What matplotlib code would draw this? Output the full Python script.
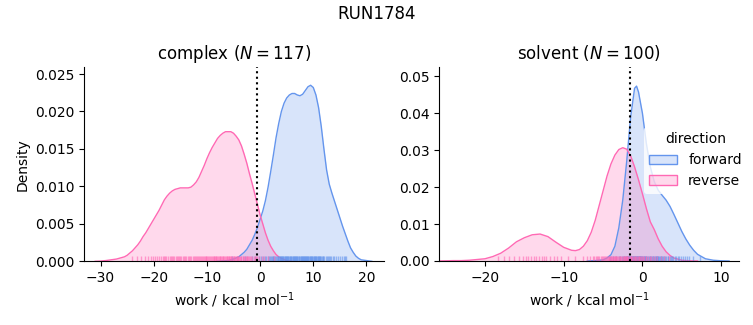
import numpy as np
import matplotlib.pyplot as plt
from matplotlib.colors import to_rgb
from matplotlib.patches import Patch

# KDE curves (x grid, density) for each phase and direction
complex_fwd_x = [-8, -7, -6, -5, -4, -3.5, -3, -2.5, -2, -1.5, -1, -0.5, 0, 0.5, 1, 1.5, 2, 2.5,
                 3, 3.5, 4, 4.5, 5, 5.5, 6, 6.5, 7, 7.5, 8, 8.5, 9, 9.5, 10, 10.5, 11, 11.5, 12,
                 12.5, 13, 13.5, 14, 14.5, 15, 15.5, 16, 16.5, 17, 17.5, 18, 18.5, 19, 20, 21]
complex_fwd_d = [0, 0.00005, 0.0001, 0.0003, 0.0006, 0.0009, 0.0012, 0.0016, 0.0022, 0.0028,
                 0.0036, 0.0045, 0.0056, 0.0067, 0.0081, 0.0099, 0.0120, 0.0142, 0.0165, 0.0184,
                 0.0200, 0.0211, 0.0218, 0.0222, 0.0224, 0.0224, 0.0222, 0.0221, 0.0223, 0.0228,
                 0.0233, 0.0235, 0.0232, 0.0222, 0.0205, 0.0180, 0.0150, 0.0122, 0.0103, 0.0091,
                 0.0080, 0.0069, 0.0058, 0.0047, 0.0037, 0.0027, 0.0018, 0.0012, 0.0007, 0.0004,
                 0.0002, 0.0001, 0]
complex_rev_x = [-31, -30, -29, -28, -27, -26.5, -26, -25.5, -25, -24.5, -24, -23.5, -23, -22.5,
                 -22, -21.5, -21, -20.5, -20, -19.5, -19, -18.5, -18, -17.5, -17, -16.5, -16,
                 -15.5, -15, -14.5, -14, -13.5, -13, -12.5, -12, -11.5, -11, -10.5, -10, -9.5,
                 -9, -8.5, -8, -7.5, -7, -6.5, -6, -5.5, -5, -4.5, -4, -3.5, -3, -2.5, -2, -1.5,
                 -1, -0.5, 0, 0.5, 1, 1.5, 2, 2.5, 3, 3.5, 4, 5, 6]
complex_rev_d = [0, 0.00003, 0.0001, 0.0002, 0.0003, 0.0004, 0.0005, 0.0006, 0.0008, 0.0011,
                 0.0014, 0.0018, 0.0022, 0.0027, 0.0033, 0.0038, 0.0044, 0.0050, 0.0056, 0.0062,
                 0.0068, 0.0075, 0.0082, 0.0087, 0.0091, 0.0094, 0.0096, 0.0097, 0.0098, 0.0098,
                 0.0098, 0.0098, 0.0099, 0.0102, 0.0106, 0.0112, 0.0120, 0.0128, 0.0137, 0.0145,
                 0.0152, 0.0158, 0.0164, 0.0168, 0.0171, 0.0173, 0.0173, 0.0173, 0.0171, 0.0167,
                 0.0162, 0.0154, 0.0143, 0.0131, 0.0117, 0.0104, 0.0090, 0.0076, 0.0062, 0.0050,
                 0.0038, 0.0028, 0.0020, 0.0014, 0.0009, 0.0006, 0.0004, 0.0001, 0]

solvent_fwd_x = [-7, -6, -5, -4.5, -4, -3.5, -3, -2.5, -2, -1.5, -1, -0.75, -0.5, 0, 0.5, 1, 1.5,
                 2, 2.5, 3, 3.5, 4, 4.5, 5, 5.5, 6, 6.5, 7, 8, 9, 10, 11]
solvent_fwd_d = [0, 0.0001, 0.0003, 0.0008, 0.0017, 0.0040, 0.0090, 0.0165, 0.0270, 0.0390,
                 0.0468, 0.0474, 0.0458, 0.0400, 0.0318, 0.0255, 0.0215, 0.0192, 0.0178, 0.0165,
                 0.0148, 0.0126, 0.0103, 0.0080, 0.0060, 0.0043, 0.0029, 0.0018, 0.0006, 0.0002,
                 0.00005, 0]
solvent_rev_x = [-26, -24, -23, -22, -21, -20, -19, -18, -17, -16, -15, -14, -13, -12, -11, -10,
                 -9, -8.5, -8, -7.5, -7, -6.5, -6, -5.5, -5, -4.5, -4, -3.5, -3, -2.5, -2, -1.5,
                 -1, -0.5, 0, 0.5, 1, 1.5, 2, 2.5, 3, 3.5, 4, 5, 6, 7]
solvent_rev_d = [0, 0.0001, 0.0001, 0.0002, 0.0004, 0.0006, 0.0012, 0.0021, 0.0035, 0.0052,
                 0.0063, 0.0071, 0.0073, 0.0066, 0.0051, 0.0037, 0.0029, 0.0028, 0.0031, 0.0040,
                 0.0055, 0.0078, 0.0110, 0.0150, 0.0190, 0.0230, 0.0263, 0.0287, 0.0302, 0.0307,
                 0.0303, 0.0285, 0.0255, 0.0220, 0.0182, 0.0142, 0.0106, 0.0085, 0.0060, 0.0040,
                 0.0025, 0.0015, 0.0008, 0.0002, 0.00005, 0]

# individual work values (rug)
complex_fwd_work = [-5.3, -2.8, -1.6, -0.9, -0.3,
                    0.2, 0.6, 0.9, 1.2, 1.5, 1.7, 1.9,
                    2.1, 2.2, 2.4, 2.5, 2.7, 2.8, 3.0, 3.1, 3.3, 3.4, 3.6, 3.7, 3.8, 3.9,
                    4.0, 4.1, 4.2, 4.3, 4.4, 4.5, 4.6, 4.7, 4.8, 4.9, 5.0, 5.1, 5.2, 5.3, 5.5,
                    5.6, 5.7, 5.8, 5.9,
                    6.0, 6.1, 6.2, 6.3, 6.4, 6.5, 6.6, 6.7, 6.8, 6.9, 7.0, 7.1, 7.3, 7.4, 7.5,
                    7.6, 7.7, 7.8, 7.9,
                    8.0, 8.1, 8.2, 8.3, 8.4, 8.5, 8.6, 8.7, 8.8, 8.9, 9.0, 9.1, 9.2, 9.3, 9.4,
                    9.5, 9.6, 9.7, 9.8,
                    10.0, 10.1, 10.2, 10.3, 10.4, 10.5, 10.6, 10.7, 10.8, 10.9, 11.0, 11.1,
                    11.2, 11.3, 11.5, 11.6, 11.8, 11.9,
                    12.1, 12.3, 12.5, 12.7, 12.9, 13.1, 13.4, 13.7, 13.9,
                    14.2, 14.6, 15.0, 15.4, 15.8, 16.0, 16.2]
complex_rev_work = [-24.1, -23.2, -22.4, -21.7, -21.1, -20.6, -20.2,
                    -19.8, -19.4, -19.0, -18.7, -18.3, -18.1,
                    -17.9, -17.6, -17.3, -17.0, -16.8, -16.5, -16.3, -16.1,
                    -15.9, -15.7, -15.4, -15.2, -15.0, -14.8, -14.5, -14.3, -14.1,
                    -13.9, -13.6, -13.4, -13.2, -13.0, -12.7, -12.5, -12.3, -12.1,
                    -11.9, -11.7, -11.5, -11.3, -11.1, -10.9, -10.7, -10.5, -10.4, -10.2, -10.1,
                    -9.9, -9.8, -9.6, -9.4, -9.3, -9.1, -8.9, -8.7, -8.6, -8.4, -8.3, -8.2, -8.1,
                    -7.9, -7.8, -7.6, -7.5, -7.3, -7.2, -7.0, -6.9, -6.7, -6.6, -6.4, -6.3,
                    -6.2, -6.1,
                    -5.9, -5.8, -5.7, -5.5, -5.4, -5.3, -5.1, -5.0, -4.9, -4.7, -4.6, -4.4,
                    -4.3, -4.2, -4.1,
                    -3.9, -3.8, -3.6, -3.5, -3.3, -3.2, -3.0, -2.9, -2.7, -2.5, -2.4, -2.2, -2.1,
                    -1.9, -1.7, -1.5, -1.2, -1.0, -0.7, -0.5, -0.2,
                    0.3, 0.8, 1.5, 2.6]

solvent_fwd_work = [-4.1, -3.7, -3.3, -3.0, -2.8, -2.6, -2.5, -2.3, -2.2, -2.1,
                    -2.0, -1.95, -1.9, -1.85, -1.8, -1.75, -1.7, -1.65, -1.6, -1.55, -1.5,
                    -1.45, -1.4, -1.35, -1.3, -1.25, -1.2, -1.15, -1.1, -1.05, -1.0, -0.95,
                    -0.9, -0.85, -0.8, -0.75, -0.7, -0.65, -0.6, -0.55, -0.5, -0.45, -0.4,
                    -0.35, -0.3, -0.25, -0.2, -0.15, -0.1,
                    0.0, 0.1, 0.15, 0.2, 0.3, 0.35, 0.4, 0.5, 0.6, 0.7, 0.8, 0.9, 1.0, 1.1,
                    1.2, 1.3, 1.4, 1.5, 1.6, 1.7, 1.75, 1.8, 1.9, 1.95,
                    2.0, 2.1, 2.2, 2.3, 2.4, 2.5, 2.6, 2.7, 2.9, 3.0, 3.2, 3.3, 3.5, 3.6, 3.8,
                    3.9,
                    4.1, 4.3, 4.5, 4.7, 4.9, 5.1, 5.4, 5.7, 5.9, 6.4, 7.3]
solvent_rev_work = [-18.3, -17.6, -16.9, -16.3,
                    -15.7, -15.2, -14.8, -14.5, -14.2,
                    -13.8, -13.5, -13.1, -12.8, -12.5, -12.2,
                    -11.7, -11.2, -10.8, -10.3, -9.4, -8.6,
                    -7.5, -7.0, -6.6, -6.3, -6.1,
                    -5.9, -5.8, -5.6, -5.5, -5.3, -5.2, -5.0, -4.9, -4.8, -4.6, -4.5, -4.4,
                    -4.3, -4.2, -4.1, -4.0,
                    -3.95, -3.9, -3.8, -3.7, -3.6, -3.5, -3.45, -3.4, -3.3, -3.2, -3.1, -3.0,
                    -2.9, -2.8, -2.7, -2.6, -2.5, -2.4, -2.35, -2.3, -2.2, -2.1, -2.05, -2.0,
                    -1.95, -1.9, -1.8, -1.7, -1.6, -1.5, -1.45, -1.4, -1.3, -1.2, -1.1, -1.0,
                    -0.9, -0.8, -0.7, -0.6, -0.5, -0.4, -0.3, -0.2, -0.1,
                    0.1, 0.2, 0.4, 0.5, 0.7, 0.9, 1.1, 1.3, 1.6, 1.9,
                    2.3, 2.8, 3.4]

# free energy estimates (dotted lines)
complex_dG = -0.65
solvent_dG = -1.56

N_complex = 117
N_solvent = 100

FWD_COLOR = "cornflowerblue"
REV_COLOR = "hotpink"


def draw_phase(ax, fwd_x, fwd_d, rev_x, rev_d, fwd_work, rev_work, dG):
    for x, d, c in [(fwd_x, fwd_d, FWD_COLOR), (rev_x, rev_d, REV_COLOR)]:
        ax.fill_between(x, d, color = c, alpha = 0.25, linewidth = 0)
        ax.plot(x, d, color = c, lw = 1)
    for w, c in [(fwd_work, FWD_COLOR), (rev_work, REV_COLOR)]:
        ax.vlines(w, 0, 0.025, color = c, lw = 1, alpha = 0.6,
                  transform = ax.get_xaxis_transform())
    ax.axvline(dG, color = "k", ls = ":", lw = 1.5)
    ax.spines["top"].set_visible(False)
    ax.spines["right"].set_visible(False)
    ax.set_xlabel(r"work / kcal mol$^{-1}$")


fig = plt.figure(figsize = (7.53, 3.25), dpi = 100)
ax1 = fig.add_axes([0.1116, 0.196, 0.3984, 0.597])
ax2 = fig.add_axes([0.5834, 0.197, 0.3984, 0.596])

draw_phase(ax1, complex_fwd_x, complex_fwd_d, complex_rev_x, complex_rev_d,
           complex_fwd_work, complex_rev_work, complex_dG)
draw_phase(ax2, solvent_fwd_x, solvent_fwd_d, solvent_rev_x, solvent_rev_d,
           solvent_fwd_work, solvent_rev_work, solvent_dG)

ax1.set_xlim(-33.1, 23.3)
ax1.set_ylim(0, 0.0259)
ax1.set_yticks([0, 0.005, 0.010, 0.015, 0.020, 0.025])
ax1.set_yticklabels(["0.000", "0.005", "0.010", "0.015", "0.020", "0.025"])
ax1.set_xticks([-30, -20, -10, 0, 10, 20])
ax1.set_ylabel("Density")
ax1.set_title(rf"complex ($N = {N_complex}$)", fontsize = 12)

ax2.set_xlim(-25.8, 12.3)
ax2.set_ylim(0, 0.0525)
ax2.set_yticks([0, 0.01, 0.02, 0.03, 0.04, 0.05])
ax2.set_yticklabels(["0.00", "0.01", "0.02", "0.03", "0.04", "0.05"])
ax2.set_xticks([-20, -10, 0, 10])
ax2.set_title(rf"solvent ($N = {N_solvent}$)", fontsize = 12)

# legend patches: light fill with a solid edge
handles = [Patch(facecolor = (*to_rgb(c), 0.25), edgecolor = c) for c in [FWD_COLOR, REV_COLOR]]
ax2.legend(handles, ["forward", "reverse"], title = "direction", loc = "center right",
           bbox_to_anchor = (1.05, 0.52), framealpha = 0.8, edgecolor = "none")

fig.suptitle("RUN1784", fontsize = 12, y = 0.985)

plt.savefig("out.png", dpi = 100)
